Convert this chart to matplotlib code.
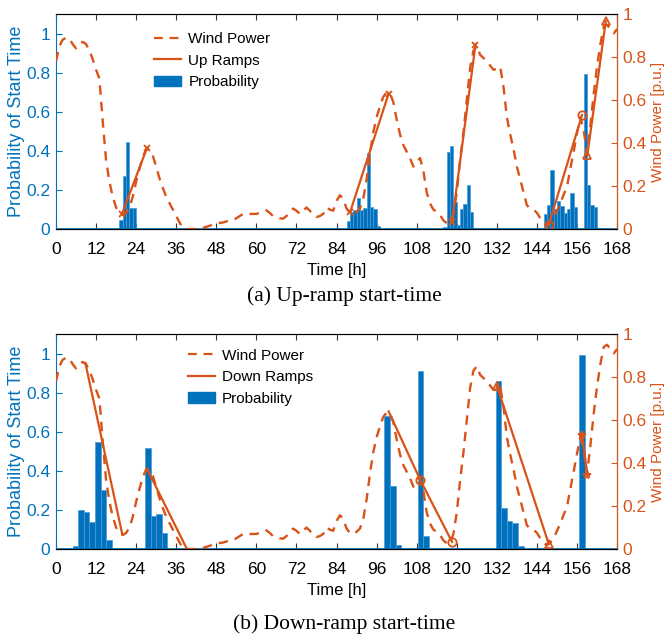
import numpy as np
import matplotlib
matplotlib.use('Agg')
import matplotlib.pyplot as plt
from matplotlib.patches import Patch
from matplotlib.lines import Line2D

plt.rcParams['font.family'] = ['Liberation Sans', 'DejaVu Sans']

BLUE = '#0072BD'
ORANGE = '#D95319'

# hourly wind power [p.u.], hours 0..168
wind = [0.78, 0.85, 0.88, 0.89, 0.885, 0.86, 0.84, 0.86, 0.87, 0.86,
        0.83, 0.79, 0.74, 0.70, 0.50, 0.32, 0.22, 0.15, 0.10, 0.075,
        0.065, 0.075, 0.10, 0.15, 0.22, 0.28, 0.335, 0.37, 0.37, 0.34,
        0.29, 0.235, 0.19, 0.15, 0.12, 0.09, 0.06, 0.03, 0.005, 0.0,
        0.0, 0.0, 0.0, 0.0, 0.005, 0.01, 0.015, 0.02, 0.025, 0.028,
        0.03, 0.035, 0.038, 0.04, 0.05, 0.06, 0.07, 0.072, 0.07, 0.07,
        0.07, 0.075, 0.08, 0.087, 0.075, 0.06, 0.056, 0.05, 0.048, 0.06,
        0.08, 0.095, 0.085, 0.07, 0.085, 0.10, 0.085, 0.065, 0.056, 0.06,
        0.07, 0.10, 0.09, 0.085, 0.13, 0.157, 0.14, 0.095, 0.075, 0.07,
        0.08, 0.095, 0.14, 0.23, 0.35, 0.45, 0.52, 0.57, 0.615, 0.635,
        0.63, 0.59, 0.51, 0.44, 0.39, 0.36, 0.33, 0.29, 0.31, 0.33,
        0.27, 0.17, 0.118, 0.09, 0.08, 0.065, 0.04, 0.027, 0.03, 0.07,
        0.17, 0.32, 0.45, 0.60, 0.75, 0.83, 0.85, 0.81, 0.795, 0.78,
        0.76, 0.74, 0.745, 0.755, 0.66, 0.52, 0.44, 0.37, 0.29, 0.23,
        0.17, 0.11, 0.095, 0.09, 0.075, 0.05, 0.03, 0.017, 0.03, 0.05,
        0.085, 0.118, 0.16, 0.196, 0.28, 0.36, 0.445, 0.52, 0.46, 0.35,
        0.48, 0.63, 0.756, 0.86, 0.94, 0.95, 0.93, 0.91, 0.93]
hours = np.arange(len(wind))

# up-ramp start-time probability (bar start hour, probability)
up_bar_t = [19, 20, 21, 22, 23,
            87, 88, 89, 90, 91, 92, 93, 94, 95, 96,
            116, 117, 118, 119, 120, 121, 122, 123, 124,
            146, 147, 148, 149, 150, 151, 152, 153, 154, 155,
            158, 159, 160, 161, 162]
up_bar_p = [0.045, 0.273, 0.447, 0.108, 0.105,
            0.04, 0.088, 0.096, 0.156, 0.096, 0.108, 0.387, 0.11, 0.104, 0.015,
            0.012, 0.395, 0.426, 0.14, 0.02, 0.10, 0.13, 0.225, 0.087,
            0.075, 0.122, 0.30, 0.10, 0.144, 0.12, 0.08, 0.10, 0.185, 0.11,
            0.795, 0.224, 0.125, 0.11, 0.005]

# down-ramp start-time probability (bar start hour, probability)
down_bar_t = [5.0, 6.67, 8.33, 10.0, 11.67, 13.33, 15.0,
              26.67, 28.33, 30.0, 31.67,
              98.33, 100.0, 101.67,
              108.33, 110.0,
              131.67, 133.33, 135.0, 136.67, 138.33,
              156.67]
down_bar_p = [0.014, 0.199, 0.187, 0.14, 0.548, 0.30, 0.048,
              0.519, 0.168, 0.178, 0.082,
              0.68, 0.324, 0.019,
              0.913, 0.065,
              0.858, 0.212, 0.144, 0.135, 0.014,
              0.991]

# ramps: (t_start, t_end, w_start, w_end, marker)
up_ramps = [(19.8, 27.2, 0.072, 0.375, 'x'),
            (88.1, 99.6, 0.08, 0.63, 'x'),
            (118.6, 125.6, 0.033, 0.857, 'x'),
            (147.5, 157.5, 0.017, 0.53, 'o'),
            (159.1, 164.6, 0.344, 0.966, '^')]
down_ramps = [(8.8, 19.8, 0.865, 0.072, ''),
              (27.2, 39.2, 0.375, 0.0, ''),
              (99.6, 109.1, 0.64, 0.32, ''),
              (109.1, 118.6, 0.32, 0.033, 'o'),
              (132.0, 147.5, 0.76, 0.025, '^'),
              (157.5, 159.1, 0.53, 0.344, '*')]


def panel(rect, bar_t, bar_p, bar_w, ramps, ramp_label, leg_x, leg_y,
          caption, cap_y):
    ax = fig.add_axes(rect)
    ax.bar(bar_t, bar_p, width=bar_w, align='edge', color=BLUE,
           edgecolor='#4a9ad6', linewidth=0.5, zorder=2)
    ax.axhline(0, color=BLUE, lw=1.2, zorder=3)
    ax.set_xlim(0, 168)
    ax.set_ylim(0, 1.1)
    ax.set_xticks(np.arange(0, 169, 12))
    ax.set_yticks([0, 0.2, 0.4, 0.6, 0.8, 1])
    ax.set_yticklabels(['0', '0.2', '0.4', '0.6', '0.8', '1'])
    ax.tick_params(axis='x', direction='in', top=True, length=4,
                   labelsize=12.5, color='#333333', pad=9.5)
    ax.tick_params(axis='y', direction='in', length=4, labelsize=12.5,
                   colors=BLUE, pad=4)
    ax.spines['left'].set_color(BLUE)
    ax.spines['top'].set_color('#222222')
    ax.set_xlabel('Time [h]', fontsize=12, labelpad=4.5)
    ax.set_ylabel('Probability of Start Time', fontsize=13, color=BLUE,
                  labelpad=1)

    ax2 = ax.twinx()
    ax2.plot(hours, wind, '--', color=ORANGE, lw=1.7, dashes=(4, 3))
    for t0, t1, w0, w1, m in ramps:
        ax2.plot([t0, t1], [w0, w1], '-', color=ORANGE, lw=1.6,
                 marker=m if m else None,
                 markersize=4 if m == 'x' else 6,
                 markerfacecolor='none', markeredgewidth=1.3)
    ax2.set_ylim(0, 1)
    ax2.set_yticks([0, 0.2, 0.4, 0.6, 0.8, 1])
    ax2.set_yticklabels(['0', '0.2', '0.4', '0.6', '0.8', '1'])
    ax2.tick_params(axis='y', direction='in', length=4, labelsize=12.5,
                    colors=ORANGE, pad=4)
    ax2.spines['right'].set_color(ORANGE)
    ax2.spines['left'].set_visible(False)
    ax2.set_ylabel('Wind Power [p.u.]', fontsize=11, color=ORANGE,
                   labelpad=3)

    handles = [Line2D([], [], ls='--', color=ORANGE, lw=1.6, dashes=(4, 3)),
               Line2D([], [], ls='-', color=ORANGE, lw=1.6),
               Patch(facecolor=BLUE, edgecolor=BLUE)]
    ax2.legend(handles, ['Wind Power', ramp_label, 'Probability'],
               loc='upper left', bbox_to_anchor=(leg_x, leg_y),
               frameon=False, fontsize=11, handlelength=1.8,
               handletextpad=0.45, labelspacing=0.5)

    fig.text(0.515, cap_y, caption, ha='center', va='center', fontsize=15.5,
             family=['Liberation Serif', 'DejaVu Serif'])
    return ax


fig = plt.figure(figsize=(6.68, 6.35), dpi=100)
panel([0.0838, 0.6394, 0.840, 0.3386], up_bar_t, up_bar_p, 1.0,
      up_ramps, 'Up Ramps', 0.15, 0.98,
      '(a) Up-ramp start-time', 1 - 296 / 635)
panel([0.0838, 0.1354, 0.840, 0.3386], down_bar_t, down_bar_p, 5 / 3,
      down_ramps, 'Down Ramps', 0.21, 0.995,
      '(b) Down-ramp start-time', 1 - 624 / 635)

fig.savefig('out.png', dpi=100)
